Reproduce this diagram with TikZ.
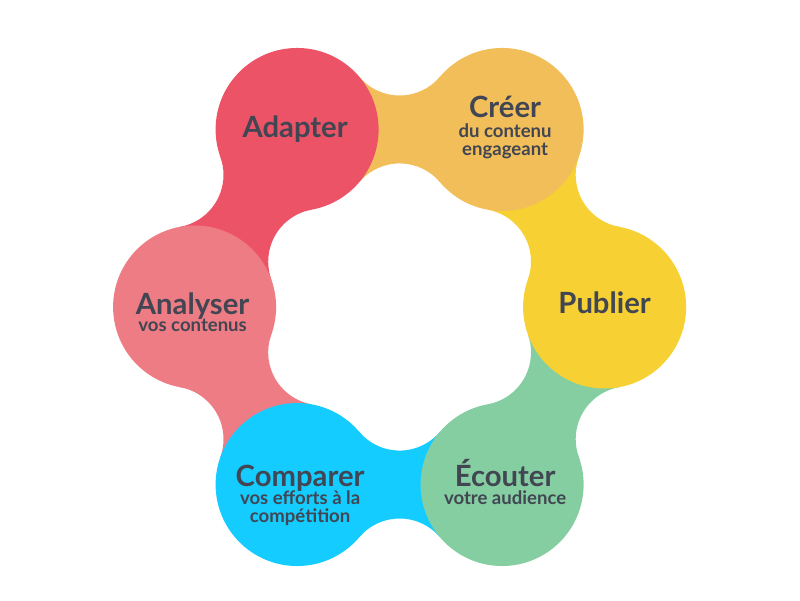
\documentclass[tikz,border=0pt]{standalone}
\usepackage{fontspec}
\setmainfont{Lato}
\usetikzlibrary{calc,positioning,backgrounds}

\definecolor{rouge}{RGB}{236,83,102}
\definecolor{orange}{RGB}{242,190,90}
\definecolor{jaune}{RGB}{247,208,52}
\definecolor{vert}{RGB}{133,206,161}
\definecolor{bleu}{RGB}{20,204,255}
\definecolor{rose}{RGB}{238,124,132}
\definecolor{texte}{RGB}{65,70,82}

\tikzset{
    cercle/.style={circle, minimum size=4.075cm, inner sep=0pt},
    titre/.style={font=\fontsize{20.8}{24}\selectfont\bfseries, text=texte, anchor=base, inner sep=0pt},
    sous/.style={font=\fontsize{13.2}{12.8}\selectfont\bfseries, text=texte, align=center, anchor=base, inner sep=0pt},
}

\begin{document}
\begin{tikzpicture}
    \useasboundingbox (0,0) rectangle (20,15);

    % les six cercles
    \foreach \nom/\ang/\col in {adapter/120/rouge, creer/60/orange, publier/0/jaune,
                                ecouter/-60/vert, comparer/-120/bleu, analyser/180/rose}{
        \node[cercle, fill=\col] (\nom) at ($(9.99,7.325)+(\ang:5.125)$) {};
    }

    % les cols entre deux cercles
    \begin{pgfonlayer}{background}
    \foreach \a/\b/\col in {adapter/creer/orange, creer/publier/jaune, publier/ecouter/vert,
                            ecouter/comparer/bleu, comparer/analyser/rose, analyser/adapter/rouge}{
        \fill[\col] let \p1=($(\b)-(\a)$), \n1={atan2(\y1,\x1)} in
            (\a.center) -- ($(\a.center)!2.0375cm!40.25:(\b.center)$)
            arc[start angle=\n1+220.25, end angle=\n1+319.75, radius=1.32cm]
            -- (\b.center) -- ($(\b.center)!2.0375cm!40.25:(\a.center)$)
            arc[start angle=\n1+40.25, end angle=\n1+139.75, radius=1.32cm] -- cycle;
    }
    \end{pgfonlayer}

    % textes (ancre sur la ligne de base de la derniere ligne)
    \node[titre] (t-adapter) at ($(adapter)+(-0.05,-0.19)$) {Adapter};

    \node[titre] (t-creer) at ($(creer)+(0.075,0.29)$) {Créer};
    \node[sous] (s-creer) at ($(creer)+(0.075,-0.66)$) {du contenu\\engageant};

    \node[titre] (t-publier) at ($(publier)+(0,-0.15)$) {Publier};

    \node[titre] (t-ecouter) at ($(ecouter)+(0.075,-0.04)$) {Écouter};
    \node[sous] (s-ecouter) at ($(ecouter)+(0.075,-0.49)$) {votre audience};

    \node[titre] (t-comparer) at ($(comparer)+(0.075,-0.04)$) {Comparer};
    \node[sous] (s-comparer) at ($(comparer)+(0.075,-0.94)$) {vos efforts à la\\compétition};

    \node[titre] (t-analyser) at ($(analyser)+(-0.05,-0.175)$) {Analyser};
    \node[sous] (s-analyser) at ($(analyser)+(-0.05,-0.6)$) {vos contenus};
\end{tikzpicture}
\end{document}
